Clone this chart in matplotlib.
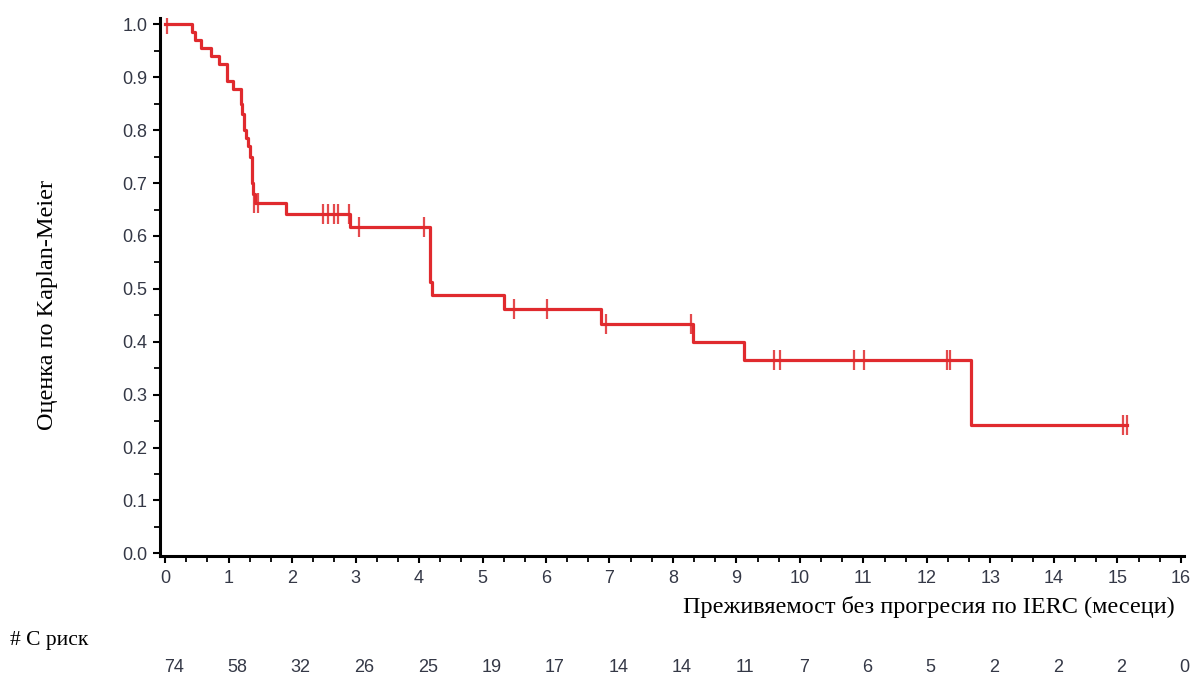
import numpy as np
import matplotlib
matplotlib.use('Agg')
import matplotlib.pyplot as plt
from matplotlib.ticker import MultipleLocator
import matplotlib.transforms as mtransforms

# Kaplan-Meier steps (month, survival after the drop)
event_times = [0.43, 0.47, 0.57, 0.72, 0.85, 0.98, 1.07, 1.19, 1.21, 1.24, 1.28,
               1.31, 1.33, 1.37, 1.39, 1.42, 1.90, 2.91, 4.17, 4.20, 5.34, 6.87,
               8.32, 9.12, 12.70]
event_surv = [0.986, 0.971, 0.955, 0.940, 0.925, 0.892, 0.878, 0.850, 0.830, 0.800,
              0.785, 0.770, 0.750, 0.700, 0.680, 0.662, 0.642, 0.616, 0.513, 0.488,
              0.462, 0.433, 0.399, 0.365, 0.243]
last_time = 15.15

# censored observations
censor_times = [0.03, 1.40, 1.47, 2.49, 2.56, 2.66, 2.72, 2.90, 3.06, 4.08, 5.49,
                6.02, 6.94, 8.28, 9.59, 9.69, 10.85, 11.01, 12.31, 12.36, 15.09, 15.15]
censor_surv = [1.0, 0.662, 0.662, 0.642, 0.642, 0.642, 0.642, 0.642, 0.616, 0.616,
               0.462, 0.462, 0.433, 0.433, 0.365, 0.365, 0.365, 0.365, 0.365, 0.365,
               0.243, 0.243]

# number at risk
risk_months = list(range(17))
at_risk = [74, 58, 32, 26, 25, 19, 17, 14, 14, 11, 7, 6, 5, 2, 2, 2, 0]

line_color = '#e02a2e'
tick_color = '#343846'

fig = plt.figure(figsize=(11.93, 6.77), dpi=100)
ax = fig.add_axes([0.1341, 0.1787, 0.8584, 0.7947])

x = [0] + event_times + [last_time]
y = [1.0] + event_surv + [event_surv[-1]]
ax.step(x, y, where='post', color=line_color, lw=2.3)
ax.plot(censor_times, censor_surv, ls='none', marker='|', ms=15, mew=1.6,
        color=line_color, alpha=0.85)

ax.set_xlim(-0.08, 16.05)
ax.set_ylim(-0.005, 1.012)

for s in ['top', 'right']:
    ax.spines[s].set_visible(False)
for s in ['left', 'bottom']:
    ax.spines[s].set_linewidth(2.2)

ax.xaxis.set_major_locator(MultipleLocator(1))
ax.xaxis.set_minor_locator(MultipleLocator(1 / 3))
ax.yaxis.set_major_locator(MultipleLocator(0.1))
ax.yaxis.set_minor_locator(MultipleLocator(0.05))
ax.set_yticks(np.arange(0, 1.01, 0.1))
ax.set_yticklabels([f'{v:.1f}' for v in np.arange(0, 1.01, 0.1)])
ax.tick_params(which='major', length=5, width=1.5, labelsize=13,
               labelcolor=tick_color)
ax.tick_params(axis='x', which='major', pad=5)
ax.tick_params(axis='y', which='major', pad=4)
ax.tick_params(which='minor', length=4, width=1.3)
for lab in ax.get_xticklabels() + ax.get_yticklabels():
    lab.set_family('Liberation Sans')

fig.text(1175 / 1193, 1 - 607 / 677, 'Преживяемост без прогресия по IERC (месеци)',
         ha='right', va='center', fontsize=17.5, family='Liberation Serif')
fig.text(48 / 1193, 1 - 305 / 677, 'Оценка по Kaplan-Meier', rotation=90,
         ha='center', va='center', fontsize=17.5, family='Liberation Serif')
fig.text(10 / 1193, 1 - 640 / 677, '# С риск', ha='left', va='center',
         fontsize=15.5, family='Liberation Serif')

trans = mtransforms.blended_transform_factory(ax.transData, fig.transFigure)
for m, n in zip(risk_months, at_risk):
    ax.text(m - 0.02, 1 - 668 / 677, str(n), transform=trans, ha='left',
            va='center', fontsize=13, color=tick_color, family='Liberation Sans',
            clip_on=False)

fig.savefig('out.png', dpi=100)
